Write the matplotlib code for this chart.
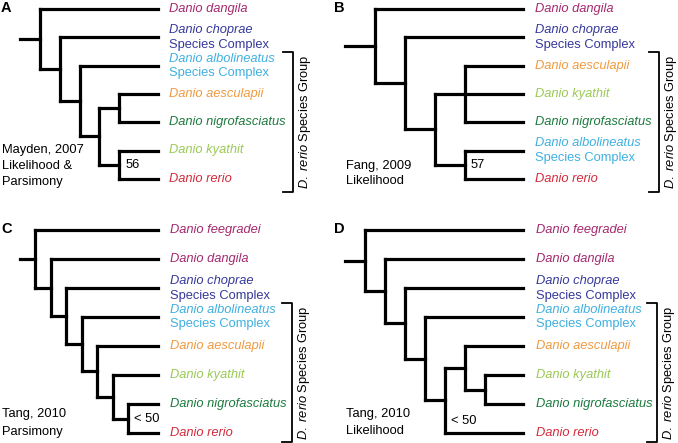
import matplotlib
matplotlib.use("Agg")
import matplotlib.pyplot as plt

plt.rcParams["font.family"] = ["Liberation Sans", "DejaVu Sans"]
plt.rcParams["mathtext.fontset"] = "custom"
plt.rcParams["mathtext.rm"] = "Liberation Sans"
plt.rcParams["mathtext.it"] = "Liberation Sans:italic"

# Species names and colours
names = {
    "feeg": "Danio feegradei",
    "dang": "Danio dangila",
    "chop": "Danio choprae",
    "albo": "Danio albolineatus",
    "aesc": "Danio aesculapii",
    "nigr": "Danio nigrofasciatus",
    "kyat": "Danio kyathit",
    "reri": "Danio rerio",
}
colors = {
    "feeg": "#a3296e",
    "dang": "#a3296e",
    "chop": "#36399a",
    "albo": "#3fb0e0",
    "aesc": "#f09a40",
    "nigr": "#1c7a3f",
    "kyat": "#9ac955",
    "reri": "#d42a3c",
}
complexes = ["chop", "albo"]   # drawn with a second line "Species Complex"
group = ["albo", "aesc", "nigr", "kyat", "reri"]   # D. rerio Species Group

# Tree topologies (nested tuples)
tree_a = ("dang", ("chop", ("albo", (("aesc", "nigr"), ("kyat", "reri")))))
tree_b = ("dang", ("chop", (("aesc", "kyat", "nigr"), ("albo", "reri"))))
tree_c = ("feeg", ("dang", ("chop", ("albo", ("aesc", ("kyat", ("nigr", "reri")))))))
tree_d = ("feeg", ("dang", ("chop", ("albo", (("aesc", ("kyat", "nigr")), "reri")))))

# Support values: clade -> label
support_a = (("kyat", "reri"), "56")
support_b = (("albo", "reri"), "57")
support_c = (("nigr", "reri"), "< 50")
support_d = (("aesc", "kyat", "nigr", "reri"), "< 50")

captions = {
    "A": ["Mayden, 2007", "Likelihood &", "Parsimony"],
    "B": ["Fang, 2009", "Likelihood"],
    "C": ["Tang, 2010", "Parsimony"],
    "D": ["Tang, 2010", "Likelihood"],
}

# layout per panel (pixel coordinates)
panels = [
    dict(letter="A", tree=tree_a, sup=support_a, ox=0, oy=0, root=40, step=19.8,
         tip=158, lab=169, top=9, row=28.3, brk=293, cap=(2, 150, 16), sdy=0),
    dict(letter="B", tree=tree_b, sup=support_b, ox=333, oy=0, root=375, step=30,
         tip=523, lab=535, top=9, row=28.3, brk=659, cap=(346, 166, 14.5), sdy=0),
    dict(letter="C", tree=tree_c, sup=support_c, ox=0, oy=221, root=35, step=15.5,
         tip=158, lab=170, top=230, row=29, brk=292, cap=(2, 414, 17.5), sdy=0),
    dict(letter="D", tree=tree_d, sup=support_d, ox=333, oy=221, root=365, step=20,
         tip=523, lab=536, top=230, row=29, brk=657, cap=(346, 414, 17.5), sdy=21),
]

LW = 2.3
FS = 9.3

fig = plt.figure(figsize=(6.78, 4.43), dpi=100)
ax = fig.add_axes([0, 0, 1, 1])
ax.set_xlim(0, 678)
ax.set_ylim(443, 0)
ax.axis("off")


def leaves(node):
    if isinstance(node, str):
        return [node]
    out = []
    for c in node:
        out += leaves(c)
    return out


def draw(node, level, p, rows, nodes):
    """returns y of node, draws branches"""
    if isinstance(node, str):
        return rows[node]
    x = p["root"] + level * p["step"]
    ys = []
    for c in node:
        y = draw(c, level + 1, p, rows, nodes)
        cx = p["tip"] if isinstance(c, str) else p["root"] + (level + 1) * p["step"]
        ax.plot([x, cx], [y, y], color="black", lw=LW, solid_capstyle="projecting")
        ys.append(y)
    ax.plot([x, x], [min(ys), max(ys)], color="black", lw=LW, solid_capstyle="projecting")
    ym = (min(ys) + max(ys)) / 2
    nodes[frozenset(leaves(node))] = (x, ym)
    return ym


for p in panels:
    tips = leaves(p["tree"])
    rows = {t: p["top"] + i * p["row"] for i, t in enumerate(tips)}
    nodes = {}
    ry = draw(p["tree"], 0, p, rows, nodes)
    ax.plot([p["root"] - p["step"], p["root"]], [ry, ry], color="black", lw=LW,
            solid_capstyle="projecting")

    # tip labels
    for t in tips:
        y = rows[t]
        if t in complexes:
            ax.text(p["lab"], y - 7, names[t], style="italic", color=colors[t],
                    fontsize=FS, va="center")
            ax.text(p["lab"], y + 7.5, "Species Complex", color=colors[t],
                    fontsize=FS, va="center")
        else:
            ax.text(p["lab"], y, names[t], style="italic", color=colors[t],
                    fontsize=FS, va="center")

    # support value
    clade, val = p["sup"]
    nx, ny = nodes[frozenset(clade)]
    ax.text(nx + 6, ny + p["sdy"], val, fontsize=FS, va="center", ha="left")

    # species group bracket
    gy = [rows[t] for t in tips if t in group]
    y0 = min(gy) - 14
    y1 = min(max(gy) + 13, 441.5)
    bx = p["brk"]
    ax.plot([bx - 10, bx, bx, bx - 10], [y0, y0, y1, y1], color="black", lw=1.3)
    ax.text(bx + 12, (y0 + y1) / 2, "$\\it{D.\\ rerio}$ Species Group", rotation=90,
            fontsize=FS, va="center", ha="center")

    # caption
    cx, cy, cs = p["cap"]
    for i, line in enumerate(captions[p["letter"]]):
        ax.text(cx, cy + i * cs, line, fontsize=FS, va="center", ha="left")

    # panel letter
    ax.text(p["ox"] + 1, p["oy"] + 8, p["letter"], fontsize=10.5, fontweight="bold",
            va="center", ha="left")

fig.savefig("out.png", dpi=100)
